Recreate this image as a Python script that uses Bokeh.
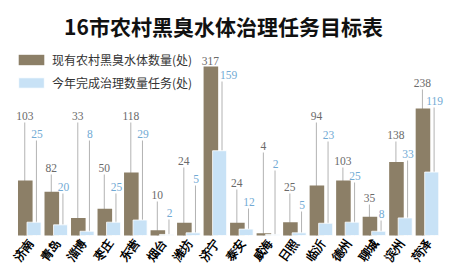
from bokeh.plotting import figure
from bokeh.models import ColumnDataSource, FactorRange, Range1d, Legend, LegendItem, Label
from bokeh.transform import dodge
from bokeh.embed import file_html
from bokeh.resources import INLINE

# ---- data ----
cities = ["济南", "青岛", "淄博", "枣庄", "东营", "烟台", "潍坊", "济宁",
          "泰安", "威海", "日照", "临沂", "德州", "聊城", "滨州", "菏泽"]
existing = [103, 82, 33, 50, 118, 10, 24, 317, 24, 4, 25, 94, 103, 35, 138, 238]
target = [25, 20, 8, 25, 29, 2, 5, 159, 12, 2, 5, 23, 25, 8, 33, 119]
title_text = "16市农村黑臭水体治理任务目标表"
legend_existing = "现有农村黑臭水体数量(处)"
legend_target = "今年完成治理数量任务(处)"

# ---- annotation layout (value-label heights above baseline, in px) ----
label_px_existing = [120, 68, 120, 68, 120, 41, 75, 175, 53, 90, 49, 120, 75, 38, 101, 153]
label_px_target = [102, 49, 102, 49, 102, 23, 57, 161, 34, 72, 31, 101, 60, 22, 82, 135]
label_dx_target = [0, 0, 0, 0, 0, 0, 0, 6, 0, 0, 0, 0, 0, 0, 0, 0]

W, H = 456, 268
pad_units = 0.6
baseline_px = 235            # baseline, px from top
ppu = 169.0 / 317.0          # px per unit
y_start = -(H - baseline_px) / ppu
y_end = baseline_px / ppu

BROWN = "#8c7f67"
BLUE = "#c8e2f6"

src = ColumnDataSource(dict(
    city=cities, existing=existing, target=target,
    ex_lab=[str(v) for v in existing], tg_lab=[str(v) for v in target],
    ex_ly=[v / ppu for v in label_px_existing],
    tg_ly=[v / ppu for v in label_px_target],
    ex_ly_line=[(v - 7) / ppu for v in label_px_existing],
    tg_ly_line=[(v - 7) / ppu for v in label_px_target],
    tg_dx=[d for d in label_dx_target],
    zero=[0] * len(cities),
    city_y=[-5 / ppu] * len(cities),
))

xr = FactorRange(*cities, range_padding=pad_units, range_padding_units="absolute")
p = figure(width=W, height=H, x_range=xr,
           y_range=Range1d(y_start, y_end), output_backend="svg", toolbar_location=None,
           min_border_top=0, min_border_bottom=0,
           min_border_left=0, min_border_right=0)
p.outline_line_color = None
p.grid.visible = False
p.axis.visible = False
p.background_fill_color = "white"

off = 0.165
p.segment(x0=dodge("city", -off - 0.02, range=p.x_range), y0="zero",
          x1=dodge("city", -off - 0.02, range=p.x_range), y1="ex_ly_line",
          source=src, line_color="#a0a0a0", line_width=0.8)
p.segment(x0=dodge("city", off + 0.09, range=p.x_range), y0="zero",
          x1=dodge("city", off + 0.09, range=p.x_range), y1="tg_ly_line",
          source=src, line_color="#a0a0a0", line_width=0.8)

r1 = p.vbar(x=dodge("city", -off, range=p.x_range), top="existing", width=0.55,
            source=src, fill_color=BROWN, line_color=None)
r2 = p.vbar(x=dodge("city", off, range=p.x_range), top="target", width=0.53,
            source=src, fill_color=BLUE, line_color="white", line_width=0.8)

p.text(x=dodge("city", -off - 0.02, range=p.x_range), y="ex_ly", text="ex_lab", source=src,
       text_align="center", text_baseline="middle", text_font_size="11.5px",
       text_color="#6a6a6a", text_font="Roboto")
p.text(x=dodge("city", off + 0.11, range=p.x_range), y="tg_ly", text="tg_lab", source=src,
       x_offset="tg_dx",
       text_align="center", text_baseline="middle", text_font_size="11.5px",
       text_color="#72aad4", text_font="Roboto")

# city names (category labels), rotated
p.text(x=dodge("city", 0.05, range=p.x_range), y="city_y", text="city", source=src,
       angle=0.95, text_align="right", text_baseline="middle",
       text_font="Noto Sans CJK SC", text_font_style="bold", text_font_size="12px",
       text_color="#000000")

title = Label(x=len(cities) / 2, y=(baseline_px - 25) / ppu, x_offset=-5, text=title_text,
              text_align="center", text_baseline="middle",
              text_font="Noto Sans CJK SC", text_font_style="bold",
              text_font_size="21px", text_color="#111111")
p.add_layout(title)

legend = Legend(items=[LegendItem(label=legend_existing, renderers=[r1]),
                       LegendItem(label=legend_target, renderers=[r2])],
                location=(15, H - 49.5 - 37 - 4), glyph_width=32, glyph_height=13,
                label_height=14, spacing=6, padding=0, margin=0, label_standoff=5,
                label_text_font="Noto Sans CJK SC", label_text_font_size="12px",
                label_text_color="#333333", border_line_color=None,
                background_fill_alpha=0)
p.add_layout(legend)

open("out.html", "w").write(file_html(p, INLINE))
